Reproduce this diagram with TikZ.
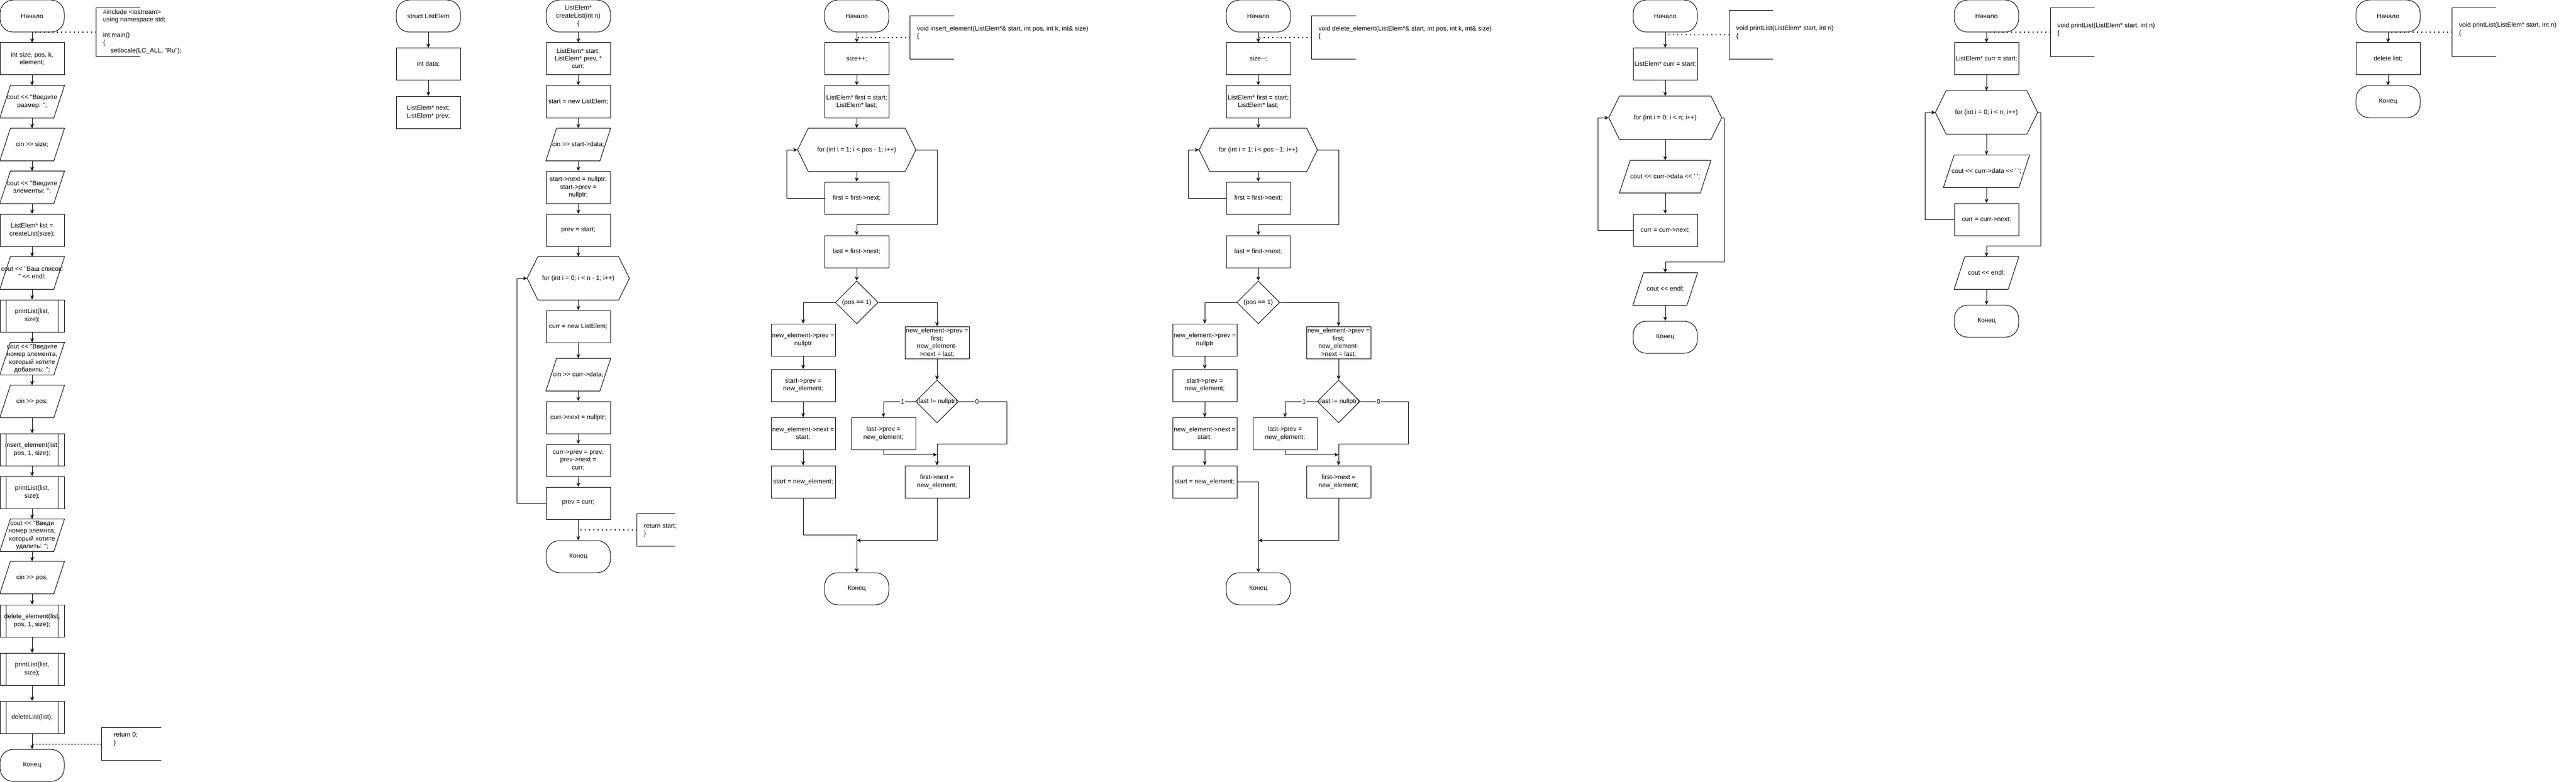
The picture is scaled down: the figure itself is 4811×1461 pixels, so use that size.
\documentclass[tikz,border=0pt]{standalone}
\usepackage{fontspec}
\setmainfont{Liberation Sans}[Ligatures={TeXOff,CommonOff}]
\usetikzlibrary{arrows.meta,shapes.geometric}
\begin{document}
\begin{tikzpicture}[x=1pt,y=-1pt,>={Stealth[length=8pt,width=7pt]},line width=1pt,font={\fontsize{12}{14.4}\selectfont},
  term/.style={draw,rounded corners=25pt,minimum width=120pt,minimum height=60pt,inner sep=0pt,align=center},
  proc/.style={draw,minimum width=120pt,minimum height=60pt,inner sep=0pt,align=center},
  subproc/.style={proc,append after command={([xshift=12pt]\tikzlastnode.north west) -- ([xshift=12pt]\tikzlastnode.south west) ([xshift=-12pt]\tikzlastnode.north east) -- ([xshift=-12pt]\tikzlastnode.south east)}},
  io/.style={minimum width=#1,minimum height=60pt,inner sep=0pt,align=center,append after command={([xshift=20pt]\tikzlastnode.north west) -- (\tikzlastnode.north east) -- ([xshift=-20pt]\tikzlastnode.south east) -- (\tikzlastnode.south west) -- cycle}},
  io/.default=120pt,
  hexa/.style={minimum width=#1,minimum height=80pt,inner sep=0pt,align=center,append after command={([xshift=20pt]\tikzlastnode.north west) -- ([xshift=-20pt]\tikzlastnode.north east) -- (\tikzlastnode.east) -- ([xshift=-20pt]\tikzlastnode.south east) -- ([xshift=20pt]\tikzlastnode.south west) -- (\tikzlastnode.west) -- cycle}},
  dec/.style={draw,diamond,minimum width=80pt,minimum height=80pt,inner sep=0pt},
  note/.style 2 args={minimum width=#1,minimum height=#2,inner sep=0pt,append after command={(\tikzlastnode.north east) -- (\tikzlastnode.north west) -- (\tikzlastnode.south west) -- (\tikzlastnode.south east)}},
  notetext/.style={anchor=west,align=left,inner sep=0pt},
  dotline/.style={line width=1.5pt,dash pattern=on 1.5pt off 6.5pt},
  lbl/.style={fill=white,inner sep=1pt}]
\useasboundingbox (0,0) rectangle (4811,1461);
\node[term] (s1) at (60,30) {Начало};
\node[proc] (m1) at (60,110) {int size, pos, k,\\element;};
\draw node[io] (m2) at (60,190) {cout << "Введите\\размер: ";};
\draw node[io] (m3) at (60,270) {cin >> size;};
\draw node[io] (m4) at (60,350) {cout << "Введите\\элементы: ";};
\node[proc] (m5) at (60,430) {ListElem* list =\\createList(size);};
\draw node[io] (m6) at (60,510) {cout << "Ваш список:\\" << endl;};
\draw node[subproc] (m7) at (60,590) {printList(list,\\size);};
\draw node[io] (m8) at (60,670) {cout << "Введите\\номер элемента,\\который хотите\\добавить: ";};
\draw node[io] (m9) at (60,750) {cin >> pos;};
\draw node[subproc] (m10) at (60,840) {insert\_element(list,\\pos, 1, size);};
\draw node[subproc] (m11) at (60,920) {printList(list,\\size);};
\draw node[io] (m12) at (60,1000) {cout << "Введи\\номер элемнта,\\который хотите\\удалить: ";};
\draw node[io] (m13) at (60,1079) {cin >> pos;};
\draw node[subproc] (m14) at (60,1160) {delete\_element(list,\\pos, 1, size);};
\draw node[subproc] (m15) at (60,1250) {printList(list,\\size);};
\draw node[subproc] (m16) at (60,1340) {deleteList(list);};
\node[term] (e1) at (60,1430) {Конец};
\draw[->] (s1) -- (m1);
\draw[->] (m1) -- (m2);
\draw[->] (m2) -- (m3);
\draw[->] (m3) -- (m4);
\draw[->] (m4) -- (m5);
\draw[->] (m5) -- (m6);
\draw[->] (m6) -- (m7);
\draw[->] (m7) -- (m8);
\draw[->] (m8) -- (m9);
\draw[->] (m9) -- (m10);
\draw[->] (m10) -- (m11);
\draw[->] (m11) -- (m12);
\draw[->] (m12) -- (m13);
\draw[->] (m13) -- (m14);
\draw[->] (m14) -- (m15);
\draw[->] (m15) -- (m16);
\draw[->] (m16) -- (e1);
\draw node[note={81pt}{90pt}] (n1) at (220.5,60) {};
\node[notetext] (n1t) at (192,59) {\#include <iostream>\\using namespace std;\\[14.4pt]int main()\\\{\\\hspace*{14pt}setlocale(LC\_ALL, "Ru");};
\draw[dotline] (n1.west) -- (n1.west -| s1.south);
\draw node[note={110pt}{60pt}] (n2) at (245,1390) {};
\node[notetext] (n2t) at (212,1381) {return 0;\\\}};
\draw[dash pattern=on 3pt off 3pt] (n2.west) -- (n2.west -| e1.north);
\node[term] (st) at (800,30) {struct ListElem};
\node[proc] (st1) at (800,120) {int data;};
\node[proc] (st2) at (800,210) {ListElem* next;\\ListElem* prev;};
\draw[->] (st) -- (st1);
\draw[->] (st1) -- (st2);
\node[term] (c0) at (1080,30) {ListElem*\\createList(int n)\\\{};
\node[proc] (c1) at (1080,110) {ListElem* start;\\ListElem* prev, *\\curr;};
\node[proc] (c2) at (1080,190) {start = new ListElem;};
\draw node[io] (c3) at (1080,270) {cin >> start->data;};
\node[proc] (c4) at (1080,350) {start->next = nullptr;\\start->prev =\\nullptr;};
\node[proc] (c5) at (1080,430) {prev = start;};
\draw node[hexa=190pt] (c6) at (1080,520) {for (int i = 0; i < n - 1; i++)};
\node[proc] (c7) at (1080,610) {curr = new ListElem;};
\draw node[io] (c8) at (1080,700) {cin >> curr->data;};
\node[proc] (c9) at (1080,780) {curr->next = nullptr;};
\node[proc] (c10) at (1080,860) {curr->prev = prev;\\prev->next =\\curr;};
\node[proc] (c11) at (1080,940) {prev = curr;};
\node[term] (c12) at (1080,1040) {Конец};
\draw[->] (c0) -- (c1);
\draw[->] (c1) -- (c2);
\draw[->] (c2) -- (c3);
\draw[->] (c3) -- (c4);
\draw[->] (c4) -- (c5);
\draw[->] (c5) -- (c6);
\draw[->] (c6) -- (c7);
\draw[->] (c7) -- (c8);
\draw[->] (c8) -- (c9);
\draw[->] (c9) -- (c10);
\draw[->] (c10) -- (c11);
\draw[->] (c11) -- (c12);
\draw[->] (c11.west) -- ++(-54,0) |- (c6.west);
\draw node[note={70pt}{60pt}] (n3) at (1225,990) {};
\node[notetext] (n3t) at (1202,991) {return start;\\\}};
\draw[dotline] (n3.west) -- (n3.west -| c12.north);
\node[term] (i0) at (1600,30) {Начало};
\node[proc] (i1) at (1600,110) {size++;};
\node[proc] (i2) at (1600,190) {ListElem* first = start;\\ListElem* last;};
\draw node[hexa=220pt] (i3) at (1600,280) {for (int i = 1; i < pos - 1; i++)};
\node[proc] (i4) at (1600,370) {first = first->next;};
\node[proc] (i5) at (1600,470) {last = first->next;};
\node[dec] (i6) at (1600,565) {\makebox[0pt]{(pos == 1)}};
\node[proc] (i7) at (1500,635) {new\_element->prev =\\nullptr};
\node[proc] (i8) at (1500,720) {start->prev =\\new\_element;};
\node[proc] (i9) at (1500,810) {new\_element->next =\\start;};
\node[proc] (i10) at (1500,900) {start = new\_element;};
\node[proc] (i11) at (1750,640) {new\_element->prev =\\first;\\new\_element-\\>next = last;};
\node[dec] (i12) at (1750,750) {\makebox[0pt]{(last != nullptr)}};
\node[proc] (i13) at (1650,810) {last->prev =\\new\_element;};
\node[proc] (i14) at (1750,900) {first->next =\\new\_element;};
\node[term] (i15) at (1600,1100) {Конец};
\draw[->] (i0) -- (i1);
\draw[->] (i1) -- (i2);
\draw[->] (i2) -- (i3);
\draw[->] (i3) -- (i4);
\draw[->] (i4.west) -- ++(-70,0) |- (i3.west);
\draw[->] (i3.east) -- ++(40,0) |- ([yshift=20pt]i5.north) -- (i5.north);
\draw[->] (i5) -- (i6);
\draw[->] (i6.west) -| (i7.north);
\draw[->] (i7) -- (i8);
\draw[->] (i8) -- (i9);
\draw[->] (i9) -- (i10);
\draw[->] (i6.east) -| (i11.north);
\draw[->] (i11) -- (i12);
\draw[->] (i12.west) -| node[lbl,pos=0.2]{1} (i13.north);
\draw[->] (i12.east) -- ++(90,0) node[lbl,pos=0.38]{0} |- ([yshift=40pt]i14.north) -- (i14.north);
\draw[->] (i13.south) |- ([yshift=20pt]i14.north);
\draw[->] (i10.south) |- ([yshift=70pt]i15.north) -- (i15.north);
\draw[->] (i14.south) |- ([yshift=60pt]i15.north);
\draw node[note={81pt}{80pt}] (n4) at (1740.5,70) {};
\node[notetext] (n4t) at (1712,61.5) {void insert\_element(ListElem*\& start, int pos, int k, int\& size)\\\{};
\draw[dotline] (n4.west) -- (n4.west -| i0.south);
\node[term] (d0) at (2350,30) {Начало};
\node[proc] (d1) at (2350,110) {size--;};
\node[proc] (d2) at (2350,190) {ListElem* first = start;\\ListElem* last;};
\draw node[hexa=220pt] (d3) at (2350,280) {for (int i = 1; i < pos - 1; i++)};
\node[proc] (d4) at (2350,370) {first = first->next;};
\node[proc] (d5) at (2350,470) {last = first->next;};
\node[dec] (d6) at (2350,565) {\makebox[0pt]{(pos == 1)}};
\node[proc] (d7) at (2250,635) {new\_element->prev =\\nullptr};
\node[proc] (d8) at (2250,720) {start->prev =\\new\_element;};
\node[proc] (d9) at (2250,810) {new\_element->next =\\start;};
\node[proc] (d10) at (2250,900) {start = new\_element;};
\node[proc] (d11) at (2500,640) {new\_element->prev =\\first;\\new\_element-\\>next = last;};
\node[dec] (d12) at (2500,750) {\makebox[0pt]{(last != nullptr)}};
\node[proc] (d13) at (2400,810) {last->prev =\\new\_element;};
\node[proc] (d14) at (2500,900) {first->next =\\new\_element;};
\node[term] (d15) at (2350,1100) {Конец};
\draw[->] (d0) -- (d1);
\draw[->] (d1) -- (d2);
\draw[->] (d2) -- (d3);
\draw[->] (d3) -- (d4);
\draw[->] (d4.west) -- ++(-70,0) |- (d3.west);
\draw[->] (d3.east) -- ++(40,0) |- ([yshift=20pt]d5.north) -- (d5.north);
\draw[->] (d5) -- (d6);
\draw[->] (d6.west) -| (d7.north);
\draw[->] (d7) -- (d8);
\draw[->] (d8) -- (d9);
\draw[->] (d9) -- (d10);
\draw[->] (d6.east) -| (d11.north);
\draw[->] (d11) -- (d12);
\draw[->] (d12.west) -| node[lbl,pos=0.2]{1} (d13.north);
\draw[->] (d12.east) -- ++(90,0) node[lbl,pos=0.38]{0} |- ([yshift=40pt]d14.north) -- (d14.north);
\draw[->] (d13.south) |- ([yshift=20pt]d14.north);
\draw[->] (d10.east) -| (d15.north);
\draw[->] (d14.south) |- ([yshift=60pt]d15.north);
\draw node[note={81pt}{80pt}] (n5) at (2490.5,70) {};
\node[notetext] (n5t) at (2462,61.5) {void delete\_element(ListElem*\& start, int pos, int k, int\& size)\\\{};
\draw[dotline] (n5.west) -- (n5.west -| d0.south);
\node[term] (p0) at (3110,30) {Начало};
\node[proc] (p1) at (3110,120) {ListElem* curr = start;};
\draw node[hexa=210pt] (p2) at (3110,220) {for (int i = 0; i < n; i++)};
\draw node[io=170pt] (p3) at (3110,330) {cout << curr->data << ' ';};
\node[proc] (p4) at (3110,430) {curr = curr->next;};
\draw node[io] (p5) at (3110,540) {cout << endl;};
\node[term] (p6) at (3110,630) {Конец};
\draw[->] (p0) -- (p1);
\draw[->] (p1) -- (p2);
\draw[->] (p2) -- (p3);
\draw[->] (p3) -- (p4);
\draw[->] (p4.west) -- ++(-65,0) |- (p2.west);
\draw[->] (p2.east) -- ++(5,0) |- ([yshift=20pt]p5.north) -- (p5.north);
\draw[->] (p5) -- (p6);
\draw node[note={80pt}{90pt}] (n6) at (3270,65) {};
\node[notetext] (n6t) at (3242,61) {void printList(ListElem* start, int n)\\\{};
\draw[dotline] (n6.west) -- (n6.west -| p0.south);
\node[term] (q0) at (3710,30) {Начало};
\node[proc] (q1) at (3710,110) {ListElem* curr = start;};
\draw node[hexa=190pt] (q2) at (3710,210) {for (int i = 0; i < n; i++)};
\draw node[io=160pt] (q3) at (3710,320) {cout << curr->data << ' ';};
\node[proc] (q4) at (3710,410) {curr = curr->next;};
\draw node[io] (q5) at (3710,510) {cout << endl;};
\node[term] (q6) at (3710,600) {Конец};
\draw[->] (q0) -- (q1);
\draw[->] (q1) -- (q2);
\draw[->] (q2) -- (q3);
\draw[->] (q3) -- (q4);
\draw[->] (q4.west) -- ++(-54,0) |- (q2.west);
\draw[->] (q2.east) -- ++(6,0) |- ([yshift=20pt]q5.north) -- (q5.north);
\draw[->] (q5) -- (q6);
\draw node[note={81pt}{90pt}] (n7) at (3870.5,60) {};
\node[notetext] (n7t) at (3842,55.5) {void printList(ListElem* start, int n)\\\{};
\draw[dotline] (n7.west) -- (n7.west -| q0.south);
\node[term] (r0) at (4460,30) {Начало};
\node[proc] (r1) at (4460,110) {delete list;};
\node[term] (r2) at (4460,190) {Конец};
\draw[->] (r0) -- (r1);
\draw[->] (r1) -- (r2);
\draw node[note={81pt}{90pt}] (n8) at (4620.5,60) {};
\node[notetext] (n8t) at (4592,55) {void printList(ListElem* start, int n)\\\{};
\draw[dotline] (n8.west) -- (n8.west -| r0.south);
\end{tikzpicture}
\end{document}
